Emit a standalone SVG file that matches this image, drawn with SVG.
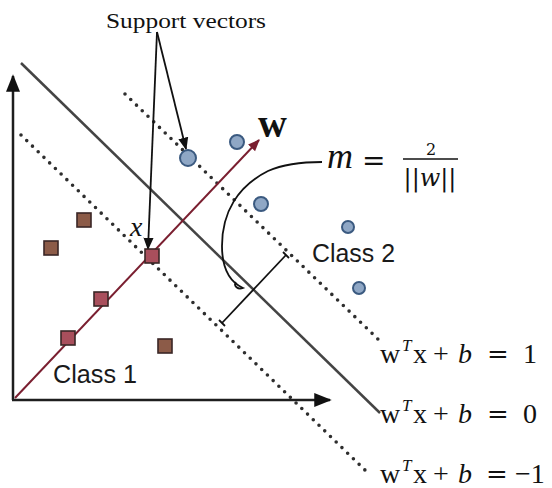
<svg xmlns="http://www.w3.org/2000/svg" width="552" height="488" viewBox="0 0 552 488">
<defs>
<style>
.axis{stroke:#1e1e1e;stroke-width:2.5;fill:none}
.hyper{stroke:#444;stroke-width:2.5;fill:none}
.dots{stroke:#2e2e2e;stroke-width:3.6;stroke-dasharray:0 8;stroke-linecap:round;fill:none}
.wvec{stroke:#7a1f30;stroke-width:2;fill:none}
.ptr{stroke:#111;stroke-width:1.8;fill:none}
.sq1{fill:#a94f5c;stroke:#3a2626;stroke-width:1.6}
.sq2{fill:#8c5b48;stroke:#3a2626;stroke-width:1.6}
.circ{fill:#8fa7c5;stroke:#3b5a80;stroke-width:2}
.serif{font-family:"Liberation Serif","Times New Roman",serif;fill:#111}
.dserif{font-family:"DejaVu Serif","Liberation Serif",serif;fill:#111}
.sans{font-family:"Liberation Sans",Arial,sans-serif;fill:#1a1a1a}
.eq{font-family:"Liberation Serif","Times New Roman",serif;font-size:28px;fill:#111}
.eqs{font-family:"DejaVu Serif","Liberation Serif",serif;font-size:26px}
</style>
<marker id="ah" viewBox="0 0 10 10" refX="9" refY="5" markerWidth="7" markerHeight="7" orient="auto-start-reverse"><path d="M0,1 L10,5 L0,9 z" fill="#111"/></marker>
<marker id="ahr" viewBox="0 0 10 10" refX="9" refY="5" markerWidth="6" markerHeight="6" orient="auto"><path d="M0,1 L10,5 L0,9 z" fill="#7a1f30"/></marker>
</defs>
<rect width="552" height="488" fill="#fff"/>

<g id="axes">
<line class="axis" x1="13" y1="400" x2="13" y2="76" marker-end="url(#ah)"/>
<line class="axis" x1="12" y1="400" x2="330" y2="400" marker-end="url(#ah)"/>
</g>

<g id="connectors">
<line class="hyper" x1="21" y1="63" x2="380" y2="413"/>
<line class="dots" x1="125" y1="94" x2="382" y2="343"/>
<line class="dots" x1="21" y1="135" x2="368" y2="473"/>
<line class="wvec" x1="15" y1="398" x2="259" y2="140" marker-end="url(#ahr)"/>
<line class="ptr" x1="157" y1="32" x2="186" y2="149" marker-end="url(#ah)"/>
<line class="ptr" x1="157" y1="32" x2="148" y2="249" marker-end="url(#ah)"/>
<path class="ptr" d="M322 162 C300 162 284 164 268 171 C238 186 222 212 222 246 C222 268 230 282 243 288 C238 290 233 286 236 282"/>
<line class="ptr" x1="222" y1="323" x2="286" y2="255"/>
<line class="ptr" x1="219" y1="320" x2="225" y2="326"/>
<line class="ptr" x1="283" y1="252" x2="289" y2="258"/>
</g>

<g id="class1">
<rect class="sq1" x="61" y="331" width="14" height="14"/>
<rect class="sq1" x="94" y="292" width="14" height="14"/>
<rect class="sq1" x="145" y="249" width="14" height="14"/>
<rect class="sq2" x="77" y="213" width="14" height="14"/>
<rect class="sq2" x="44" y="241" width="14" height="14"/>
<rect class="sq2" x="158" y="339" width="14" height="14"/>
</g>

<g id="class2">
<circle class="circ" cx="188" cy="158" r="8"/>
<circle class="circ" cx="237" cy="142" r="7"/>
<circle class="circ" cx="261" cy="204" r="7"/>
<circle class="circ" cx="348" cy="227" r="6"/>
<circle class="circ" cx="359" cy="288" r="6"/>
</g>

<g id="labels">
<text class="serif" x="106" y="28" font-size="22" textLength="160" lengthAdjust="spacingAndGlyphs">Support vectors</text>
<text class="serif" x="130" y="236" font-size="28" font-style="italic">x</text>
<text class="serif" x="258" y="137" font-size="40" font-weight="bold">w</text>
<text class="sans" x="312" y="262" font-size="26" textLength="83" lengthAdjust="spacingAndGlyphs">Class 2</text>
<text class="sans" x="53" y="383" font-size="26" textLength="84" lengthAdjust="spacingAndGlyphs">Class 1</text>
</g>

<g id="margin-formula">
<text class="serif" x="327" y="168" font-size="36" font-style="italic">m</text>
<text class="dserif" x="362" y="170" font-size="28">=</text>
<line x1="403" y1="159" x2="458" y2="159" stroke="#111" stroke-width="1.6"/>
<text class="dserif" x="431" y="155" font-size="16" text-anchor="middle">2</text>
<text class="dserif" x="430" y="186" font-size="24" text-anchor="middle">||<tspan font-style="italic">w</tspan>||</text>
</g>

<g id="eq-plus1">
<text class="eq" x="380" y="363">w<tspan x="402" dy="-12" font-size="17" font-style="italic">T</tspan><tspan x="413" dy="12">x</tspan><tspan x="433">+</tspan><tspan x="458" font-style="italic">b</tspan><tspan x="487" class="eqs">=</tspan><tspan x="523">1</tspan></text>
</g>
<g id="eq-zero">
<text class="eq" x="380" y="423">w<tspan x="402" dy="-12" font-size="17" font-style="italic">T</tspan><tspan x="413" dy="12">x</tspan><tspan x="433">+</tspan><tspan x="458" font-style="italic">b</tspan><tspan x="487" class="eqs">=</tspan><tspan x="523">0</tspan></text>
</g>
<g id="eq-minus1">
<text class="eq" x="380" y="483">w<tspan x="402" dy="-12" font-size="17" font-style="italic">T</tspan><tspan x="413" dy="12">x</tspan><tspan x="433">+</tspan><tspan x="458" font-style="italic">b</tspan><tspan x="486" class="eqs">=</tspan><tspan x="515">−1</tspan></text>
</g>
</svg>
